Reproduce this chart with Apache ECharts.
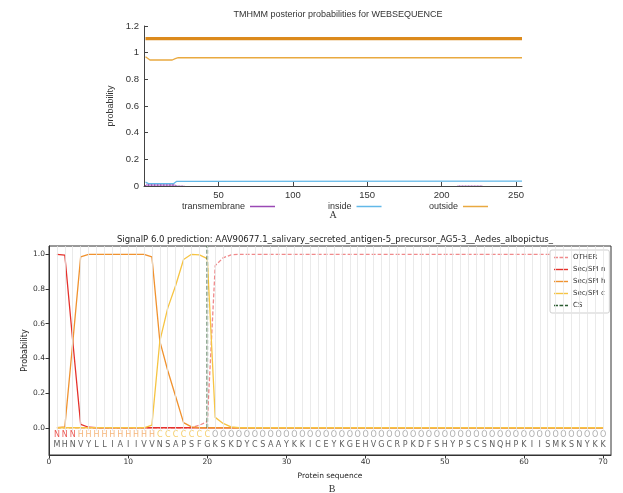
<!DOCTYPE html>
<html><head><meta charset="utf-8">
<script src="https://cdn.jsdelivr.net/npm/echarts@6/dist/echarts.min.js"></script>
<style>html,body{margin:0;padding:0;background:#fff}#c{width:623px;height:493px}</style>
</head><body><div id="c"></div>
<script>
// ---------- Panel A: TMHMM ----------
const tmhmmLength = 254;
const tmhmmXTicks = [50, 100, 150, 200, 250];
const topologyLevel = 1.105;            // predicted topology bar (outside)
const tmStartA = 1;
const tmValuesA = [0.008,0.018,0.018,0.018,0.018,0.018,0.018,0.018,0.018,0.018,
                   0.018,0.018,0.018,0.018,0.018,0.018,0.018,0.018,0.018,0.016,
                   0.010,0.006,0.004,0.004,0.003,0.003,0.002];
const tmStartB = 211;
const tmValuesB = [0.003,0.004,0.004,0.004,0.004,0.004,0.004,0.004,0.004,0.004,
                   0.004,0.004,0.004,0.004,0.004,0.004,0.003];
const insideCurve  = [[1,0.030],[3,0.018],[20,0.018],[22,0.035],[23,0.037],[254,0.037]];
const outsideCurve = [[1,0.970],[2,0.965],[4,0.945],[19,0.945],[21,0.955],[23,0.962],[254,0.962]];

// ---------- Panel B: SignalP 6.0 ----------
const residues = "MHNVYLLIAIIVVNSAPSFGKSKDYCSAAYKKICEYKGEHVGCRPKDFSHYPSCSNQHPKIISMKSNYKK".split("");
const regions  = ("NNNHHHHHHHHHHCCCCCCC" +
                  "OOOOOOOOOO" + "OOOOOOOOOO" + "OOOOOOOOOO" + "OOOOOOOOOO" + "OOOOOOOOOO").split("");
const pOther = [0,0,0,0,0,0,0,0,0,0,
                0,0,0,0,0,0,0,0,0.015,0.035,
                0.935,0.98,0.997,1,1,1,1,1,1,1,
                1,1,1,1,1,1,1,1,1,1,
                1,1,1,1,1,1,1,1,1,1,
                1,1,1,1,1,1,1,1,1,1,
                1,1,1,1,1,1,1,1,1,1];
const pN = [1.0,0.995,0.5,0.02,0.003,0,0,0,0,0,
            0,0,0,0,0,0,0,0,0,0,
            0,0,0,0,0,0,0,0,0,0,
            0,0,0,0,0,0,0,0,0,0,
            0,0,0,0,0,0,0,0,0,0,
            0,0,0,0,0,0,0,0,0,0,
            0,0,0,0,0,0,0,0,0,0];
const pH = [0,0.005,0.49,0.985,1,1,1,1,1,1,
            1,1,0.985,0.5,0.33,0.18,0.03,0.005,0,0,
            0,0,0,0,0,0,0,0,0,0,
            0,0,0,0,0,0,0,0,0,0,
            0,0,0,0,0,0,0,0,0,0,
            0,0,0,0,0,0,0,0,0,0,
            0,0,0,0,0,0,0,0,0,0];
const pC = [0,0,0,0,0,0,0,0,0,0,
            0,0,0.015,0.5,0.69,0.82,0.97,1.0,0.997,0.975,
            0.06,0.025,0.005,0,0,0,0,0,0,0,
            0,0,0,0,0,0,0,0,0,0,
            0,0,0,0,0,0,0,0,0,0,
            0,0,0,0,0,0,0,0,0,0,
            0,0,0,0,0,0,0,0,0,0];
const csSite = 20;
const signalXTicks = [0,10,20,30,40,50,60,70];
const signalYTicks = [0,0.2,0.4,0.6,0.8,1.0];

// ---------- styling / layout ----------
const SANS_A = "Liberation Sans, Arial, sans-serif";
const SANS_B = "DejaVu Sans, sans-serif";
const SERIF = "Liberation Serif, DejaVu Serif, serif";
const yMinB = -0.157, yMaxB = 1.048, xMaxB = residues.length + 1;
const regionColors = {N:'#e5312b', H:'#f3a25a', C:'#f2c244', O:'#9a9a9a'};
const colN = '#e5312b', colH = '#f0922f', colC = '#f6c443', colOther = '#f08a8c', colCS = '#2a5c30';
const ICON_SOLID = 'path://M0,0h14v1.4h-14z';
const ICON_DASH = 'path://M0,0h4v1.4h-4z M5.5,0h4v1.4h-4z M11,0h3v1.4h-3z';

const xy = arr => arr.map((v, i) => [i + 1, v]);
const tmData = tmValuesA.map((v, i) => [tmStartA + i, v])
  .concat(tmValuesB.map((v, i) => [tmStartB + i, v]));

const chart = echarts.init(document.getElementById('c'), null, {renderer: 'canvas'});
const option = {
  animation: false,
  backgroundColor: '#fff',
  title: [
    {text: 'TMHMM posterior probabilities for WEBSEQUENCE', left: 333, top: 5, textAlign: 'center',
     textStyle: {fontSize: 9, fontWeight: 'normal', fontFamily: SANS_A, color: '#333'}},
    {text: 'A', left: 328, top: 205, textAlign: 'center',
     textStyle: {fontSize: 10, fontWeight: 'normal', fontFamily: SERIF, color: '#333'}},
    {text: 'SignalP 6.0 prediction: AAV90677.1_salivary_secreted_antigen-5_precursor_AG5-3__Aedes_albopictus_',
     left: 330, top: 230, textAlign: 'center',
     textStyle: {fontSize: 8.5, fontWeight: 'normal', fontFamily: SANS_B, color: '#222'}},
    {text: 'B', left: 327, top: 479, textAlign: 'center',
     textStyle: {fontSize: 10, fontWeight: 'normal', fontFamily: SERIF, color: '#333'}}
  ],
  legend: [
    {left: 182, top: 202, align: 'right', padding: 0, itemWidth: 25, itemHeight: 1.5, itemGap: 0,
     data: [{name: 'transmembrane', icon: 'rect'}], selectedMode: false,
     textStyle: {fontSize: 9, fontFamily: SANS_A, color: '#333'}},
    {left: 328, top: 202, align: 'right', padding: 0, itemWidth: 25, itemHeight: 1.5, itemGap: 0,
     data: [{name: 'inside', icon: 'rect'}], selectedMode: false,
     textStyle: {fontSize: 9, fontFamily: SANS_A, color: '#333'}},
    {left: 429, top: 202, align: 'right', padding: 0, itemWidth: 25, itemHeight: 1.5, itemGap: 0,
     data: [{name: 'outside', icon: 'rect'}], selectedMode: false,
     textStyle: {fontSize: 9, fontFamily: SANS_A, color: '#333'}},
    {orient: 'vertical', left: 550, top: 250, itemWidth: 14, itemHeight: 1.4, itemGap: 3,
     padding: [3, 4, 3, 4], backgroundColor: '#fff', borderColor: '#cfcfcf', borderWidth: 1, borderRadius: 2,
     data: [{name: 'OTHER', icon: ICON_DASH}, {name: 'Sec/SPI n', icon: ICON_SOLID},
            {name: 'Sec/SPI h', icon: ICON_SOLID}, {name: 'Sec/SPI c', icon: ICON_SOLID},
            {name: 'CS', icon: ICON_DASH}],
     selectedMode: false,
     textStyle: {fontSize: 7, lineHeight: 9, fontFamily: SANS_B, color: '#333'}}
  ],
  grid: [
    {left: 144, top: 26, width: 378, height: 160, show: false},
    {left: 49, top: 246, width: 562, height: 209, show: true, borderColor: '#333', borderWidth: 1, backgroundColor: '#fff'}
  ],
  xAxis: [
    {gridIndex: 0, type: 'value', min: 0, max: tmhmmLength,
     axisLine: {show: true, lineStyle: {color: '#444', width: 1}},
     axisTick: {show: true, inside: true, length: 4, customValues: tmhmmXTicks, lineStyle: {color: '#444'}},
     axisLabel: {customValues: tmhmmXTicks, fontSize: 9.5, fontFamily: SANS_A, color: '#333', margin: 4},
     splitLine: {show: false}},
    {gridIndex: 1, type: 'value', min: 0, max: xMaxB,
     name: 'Protein sequence', nameLocation: 'middle', nameGap: 17, nameMoveOverlap: false,
     nameTextStyle: {fontSize: 7.5, fontFamily: SANS_B, color: '#222'},
     axisLine: {show: true, onZero: false, lineStyle: {color: '#333'}},
     axisTick: {show: true, length: 3.5, customValues: signalXTicks, lineStyle: {color: '#333'}},
     axisLabel: {customValues: signalXTicks, fontSize: 7.5, fontFamily: SANS_B, color: '#333', margin: 3},
     splitLine: {show: false}}
  ],
  yAxis: [
    {gridIndex: 0, type: 'value', min: 0, max: 1.2, interval: 0.2,
     name: 'probability', nameLocation: 'middle', nameGap: 29, nameRotate: 90,
     nameTextStyle: {fontSize: 9, fontFamily: SANS_A, color: '#333'},
     axisLine: {show: true, lineStyle: {color: '#444', width: 1}},
     axisTick: {show: true, inside: true, length: 4, lineStyle: {color: '#444'}},
     axisLabel: {fontSize: 9.5, fontFamily: SANS_A, color: '#333', margin: 5},
     splitLine: {show: false}},
    {gridIndex: 1, type: 'value', min: yMinB, max: yMaxB,
     name: 'Probability', nameLocation: 'middle', nameGap: 20, nameRotate: 90, nameMoveOverlap: false,
     nameTextStyle: {fontSize: 8, fontFamily: SANS_B, color: '#222'},
     axisLine: {show: true, onZero: false, lineStyle: {color: '#333'}},
     axisTick: {show: true, length: 3.5, customValues: signalYTicks, lineStyle: {color: '#333'}},
     axisLabel: {customValues: signalYTicks, formatter: v => v.toFixed(1),
                 fontSize: 7.5, fontFamily: SANS_B, color: '#333', margin: 4},
     splitLine: {show: false}}
  ],
  series: [
    // ---- panel A ----
    {name: 'topology', type: 'line', xAxisIndex: 0, yAxisIndex: 0, symbol: 'none', silent: true,
     data: [[1, topologyLevel], [tmhmmLength, topologyLevel]],
     lineStyle: {color: '#dc8a1c', width: 3.3}, itemStyle: {color: '#dc8a1c'}},
    {name: 'transmembrane', type: 'bar', xAxisIndex: 0, yAxisIndex: 0, barWidth: 1, silent: true,
     data: tmData, itemStyle: {color: '#9a48b4'}},
    {name: 'inside', type: 'line', xAxisIndex: 0, yAxisIndex: 0, symbol: 'none', silent: true,
     data: insideCurve, lineStyle: {color: '#62b8e8', width: 1.3}, itemStyle: {color: '#62b8e8'}},
    {name: 'outside', type: 'line', xAxisIndex: 0, yAxisIndex: 0, symbol: 'none', silent: true,
     data: outsideCurve, lineStyle: {color: '#e9a940', width: 1.3}, itemStyle: {color: '#e9a940'}},
    // ---- panel B ----
    {name: 'gridlines', type: 'line', xAxisIndex: 1, yAxisIndex: 1, symbol: 'none', silent: true, z: 1,
     data: [], lineStyle: {opacity: 0},
     markLine: {silent: true, symbol: ['none', 'none'], label: {show: false},
                lineStyle: {color: '#e4e4e4', width: 0.8, type: 'solid'},
                data: residues.map((r, i) => [{coord: [i + 1, -0.02]}, {coord: [i + 1, yMaxB]}])}},
    {name: 'OTHER', type: 'line', xAxisIndex: 1, yAxisIndex: 1, symbol: 'none', silent: true,
     data: xy(pOther), lineStyle: {color: colOther, width: 1.3, type: [4, 2]}, itemStyle: {color: colOther}},
    {name: 'Sec/SPI n', type: 'line', xAxisIndex: 1, yAxisIndex: 1, symbol: 'none', silent: true,
     data: xy(pN), lineStyle: {color: colN, width: 1.3}, itemStyle: {color: colN}},
    {name: 'Sec/SPI h', type: 'line', xAxisIndex: 1, yAxisIndex: 1, symbol: 'none', silent: true,
     data: xy(pH), lineStyle: {color: colH, width: 1.3}, itemStyle: {color: colH}},
    {name: 'Sec/SPI c', type: 'line', xAxisIndex: 1, yAxisIndex: 1, symbol: 'none', silent: true,
     data: xy(pC), lineStyle: {color: colC, width: 1.3}, itemStyle: {color: colC}},
    {name: 'CS', type: 'line', xAxisIndex: 1, yAxisIndex: 1, symbol: 'none', silent: true,
     data: [[csSite, 0], [csSite, yMaxB]], lineStyle: {color: colCS, width: 1.6, type: [4, 2]}, itemStyle: {color: colCS}},
    {name: 'regionLetters', type: 'scatter', xAxisIndex: 1, yAxisIndex: 1, symbolSize: 1, silent: true,
     itemStyle: {color: 'rgba(0,0,0,0)'},
     label: {show: true, position: 'inside', formatter: p => p.data.t, fontSize: 8, fontFamily: SANS_B},
     data: regions.map((r, i) => ({value: [i + 1, -0.042], t: r, label: {color: regionColors[r]}}))},
    {name: 'residueLetters', type: 'scatter', xAxisIndex: 1, yAxisIndex: 1, symbolSize: 1, silent: true,
     itemStyle: {color: 'rgba(0,0,0,0)'},
     label: {show: true, position: 'inside', formatter: p => p.data.t, fontSize: 8, fontFamily: SANS_B, color: '#333'},
     data: residues.map((r, i) => ({value: [i + 1, -0.098], t: r}))}
  ]
};
chart.setOption(option);
</script></body></html>
